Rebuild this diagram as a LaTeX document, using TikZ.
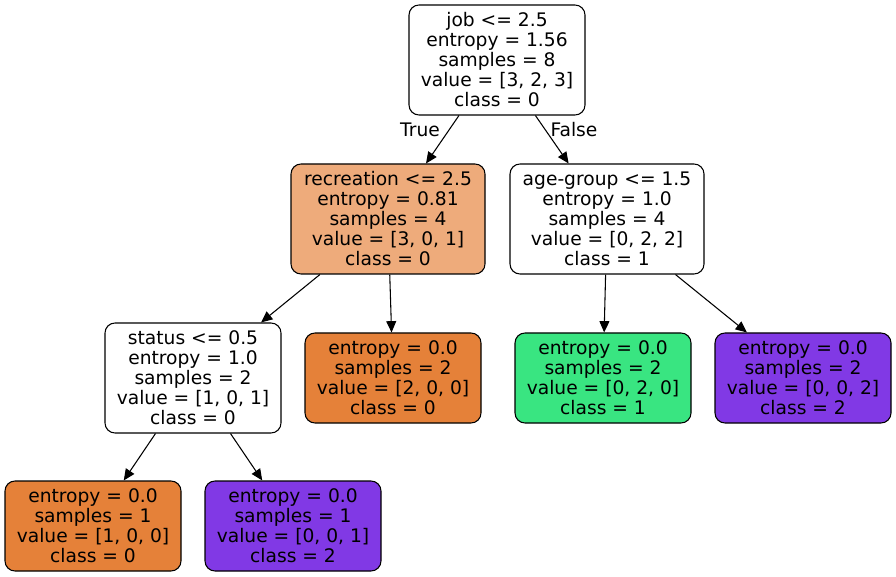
\documentclass[tikz,border=0pt]{standalone}
\usepackage{fontspec}
\setmainfont{DejaVu Sans}
\usetikzlibrary{arrows.meta}
\definecolor{cls0}{HTML}{E58139}
\definecolor{cls0light}{HTML}{EEAB7B}
\definecolor{cls1}{HTML}{39E581}
\definecolor{cls2}{HTML}{8139E5}
\begin{document}
\begin{tikzpicture}[x=0.75pt,y=-0.75pt,
  treenode/.style={draw=black, line width=0.8pt, rounded corners=7.5pt,
    inner sep=0pt, align=center, text=black,
    font=\fontsize{14pt}{15pt}\selectfont,
    minimum width=132pt, minimum height=82.5pt},
  widenode/.style={treenode, minimum width=145.5pt},
  leafnode/.style={treenode, minimum height=67.5pt},
  edge/.style={draw=black, line width=0.8pt,
    -{Triangle[length=8.5pt, width=7.5pt]}},
  edgelabel/.style={font=\fontsize{14pt}{15pt}\selectfont, inner sep=0pt, anchor=base}
]
\useasboundingbox (0,0) rectangle (896,577);

% split nodes
\node[treenode, fill=white] (root) at (497,60)
  {job <= 2.5\\entropy = 1.56\\samples = 8\\value = [3, 2, 3]\\class = 0};
\node[widenode, fill=cls0light] (rec) at (388,219)
  {recreation <= 2.5\\entropy = 0.81\\samples = 4\\value = [3, 0, 1]\\class = 0};
\node[widenode, fill=white] (age) at (607,219)
  {age-group <= 1.5\\entropy = 1.0\\samples = 4\\value = [0, 2, 2]\\class = 1};
\node[treenode, fill=white] (status) at (193,378)
  {status <= 0.5\\entropy = 1.0\\samples = 2\\value = [1, 0, 1]\\class = 0};

% leaves
\node[leafnode, fill=cls0] (leafA) at (393,378)
  {entropy = 0.0\\samples = 2\\value = [2, 0, 0]\\class = 0};
\node[leafnode, fill=cls1] (leafB) at (603,378)
  {entropy = 0.0\\samples = 2\\value = [0, 2, 0]\\class = 1};
\node[leafnode, fill=cls2] (leafC) at (803,378)
  {entropy = 0.0\\samples = 2\\value = [0, 0, 2]\\class = 2};
\node[leafnode, fill=cls0] (leafD) at (93,526)
  {entropy = 0.0\\samples = 1\\value = [1, 0, 0]\\class = 0};
\node[leafnode, fill=cls2] (leafE) at (293,526)
  {entropy = 0.0\\samples = 1\\value = [0, 0, 1]\\class = 2};

% connectors
\draw[edge] (root) -- (rec);
\draw[edge] (root) -- (age);
\draw[edge] (rec) -- (status);
\draw[edge] (rec) -- (leafA);
\draw[edge] (age) -- (leafB);
\draw[edge] (age) -- (leafC);
\draw[edge] (status) -- (leafD);
\draw[edge] (status) -- (leafE);

% branch labels
\node[edgelabel] (truelbl) at (420,136.5) {True};
\node[edgelabel] (falselbl) at (574,136.5) {False};
\end{tikzpicture}
\end{document}
